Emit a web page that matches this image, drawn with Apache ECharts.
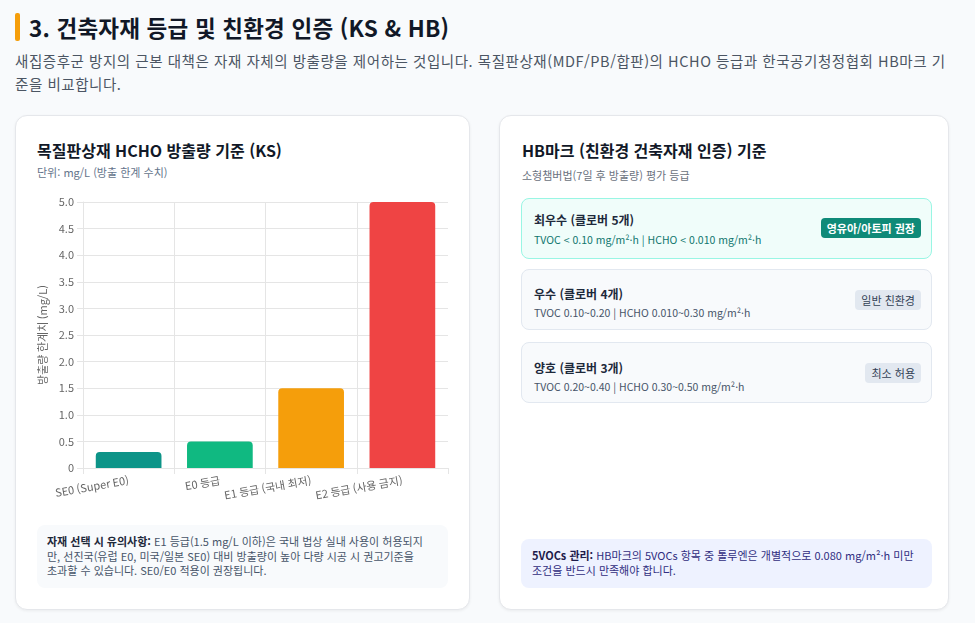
<!DOCTYPE html>
<html lang="ko">
<head>
<meta charset="utf-8">
<script src="https://cdn.jsdelivr.net/npm/echarts@6/dist/echarts.min.js"></script>
<style>
  html, body { margin:0; padding:0; }
  body { width:975px; height:623px; background:#f8fafc; position:relative; overflow:hidden;
         font-family:"Noto Sans CJK KR","Noto Sans",sans-serif; color:#1f2937; }
  .abs { position:absolute; white-space:nowrap; }
  .card { position:absolute; background:#fff; border:1px solid #e5e7eb; border-radius:12px;
          box-shadow:0 1px 3px rgba(0,0,0,0.06); box-sizing:border-box; }
  .item { position:absolute; left:521px; width:411px; height:61px; box-sizing:border-box;
          border:1px solid #e2e8f0; background:#f8fafc; border-radius:8px; }
  .item .t { position:absolute; left:12px; font-size:12px; font-weight:700; color:#1e293b; line-height:16px; }
  .item .s { position:absolute; left:12px; font-size:10.5px; color:#475569; line-height:14px; }
  .badge { position:absolute; font-size:11px; line-height:20px; height:20px; padding:0 6px; border-radius:4px;
           background:#e2e8f0; color:#334155; }
</style>
</head>
<body>
<div class="abs" style="left:15px;top:13px;width:5px;height:28px;background:#f59e0b;border-radius:2px;"></div>
<div class="abs" style="left:29px;top:13px;font-size:22.5px;line-height:28px;font-weight:700;color:#111827;letter-spacing:0.2px;">3. 건축자재 등급 및 친환경 인증 (KS &amp; HB)</div>
<div class="abs" style="left:15px;top:49px;font-size:14.5px;line-height:23px;color:#4b5563;letter-spacing:0.55px;">새집증후군 방지의 근본 대책은 자재 자체의 방출량을 제어하는 것입니다. 목질판상재(MDF/PB/합판)의 HCHO 등급과 한국공기청정협회 HB마크 기<br>준을 비교합니다.</div>

<div class="card" style="left:15px;top:115px;width:455px;height:495px;"></div>
<div class="card" style="left:499px;top:115px;width:450px;height:495px;"></div>

<div class="abs" style="left:37px;top:140px;font-size:16px;line-height:20px;font-weight:700;color:#111827;">목질판상재 HCHO 방출량 기준 (KS)</div>
<div class="abs" style="left:37px;top:164px;font-size:11px;line-height:16px;color:#64748b;">단위: mg/L (방출 한계 수치)</div>

<div id="chart" class="abs" style="left:20px;top:185px;width:445px;height:335px;"></div>

<div class="abs" style="left:37px;top:525px;width:411px;height:63px;background:#f8fafc;border-radius:8px;"></div>
<div class="abs" style="left:47px;top:534px;font-size:11px;line-height:14.5px;color:#475569;"><b style="color:#1e293b;">자재 선택 시 유의사항:</b> E1 등급(1.5 mg/L 이하)은 국내 법상 실내 사용이 허용되지<br>만, 선진국(유럽 E0, 미국/일본 SE0) 대비 방출량이 높아 다량 시공 시 권고기준을<br>초과할 수 있습니다. SE0/E0 적용이 권장됩니다.</div>

<div class="abs" style="left:522px;top:140px;font-size:16px;line-height:20px;font-weight:700;color:#111827;">HB마크 (친환경 건축자재 인증) 기준</div>
<div class="abs" style="left:522px;top:167px;font-size:11px;line-height:16px;color:#6b7280;">소형챔버법(7일 후 방출량) 평가 등급</div>

<div class="item" style="top:198px;background:#f0fdfa;border-color:#99f6e4;">
  <div class="t" style="top:13px;">최우수 (클로버 5개)</div>
  <div class="s" style="top:34px;color:#0f766e;">TVOC &lt; 0.10 mg/m²·h | HCHO &lt; 0.010 mg/m²·h</div>
  <div class="badge" style="right:10px;top:19px;background:#0f8a78;color:#fff;font-weight:700;">영유아/아토피 권장</div>
</div>
<div class="item" style="top:269px;">
  <div class="t" style="top:16px;">우수 (클로버 4개)</div>
  <div class="s" style="top:36px;">TVOC 0.10~0.20 | HCHO 0.010~0.30 mg/m²·h</div>
  <div class="badge" style="right:10px;top:20px;">일반 친환경</div>
</div>
<div class="item" style="top:342px;">
  <div class="t" style="top:17px;">양호 (클로버 3개)</div>
  <div class="s" style="top:37px;">TVOC 0.20~0.40 | HCHO 0.30~0.50 mg/m²·h</div>
  <div class="badge" style="right:10px;top:20px;">최소 허용</div>
</div>

<div class="abs" style="left:521px;top:539px;width:411px;height:49px;background:#eef2ff;border-radius:8px;"></div>
<div class="abs" style="left:532px;top:548px;font-size:11px;line-height:15px;color:#312e81;"><b style="color:#1e1b4b;">5VOCs 관리:</b> HB마크의 5VOCs 항목 중 톨루엔은 개별적으로 0.080 mg/m²·h 미만<br>조건을 반드시 만족해야 합니다.</div>

<script>
const categories = ['SE0 (Super E0)', 'E0 등급', 'E1 등급 (국내 최저)', 'E2 등급 (사용 금지)'];
const limits = [0.3, 0.5, 1.5, 5.0];
const barColors = ['#0d9488', '#10b981', '#f59e0b', '#ef4444'];
const yTicks = { min: 0, max: 5, interval: 0.5 };

const chart = echarts.init(document.getElementById('chart'));
chart.setOption({
  animation: false,
  textStyle: { fontFamily: '"Noto Sans CJK KR","Noto Sans",sans-serif' },
  grid: { left: 63, right: 17, top: 17, bottom: 52, containLabel: false },
  xAxis: {
    type: 'category',
    data: categories,
    boundaryGap: true,
    axisLine: { show: true, lineStyle: { color: '#e5e5e5' } },
    axisTick: { show: true, length: 6, lineStyle: { color: '#e5e5e5' } },
    splitLine: { show: true, showMaxLine: false, lineStyle: { color: '#e5e5e5' } },
    axisLabel: { rotate: 10, margin: 12, fontSize: 11, color: '#666', interval: 0 }
  },
  yAxis: {
    type: 'value',
    min: yTicks.min, max: yTicks.max, interval: yTicks.interval,
    name: '방출량 한계치 (mg/L)',
    nameLocation: 'middle',
    nameRotate: 90,
    nameGap: 33,
    nameTextStyle: { fontSize: 11, color: '#666' },
    axisLine: { show: true, lineStyle: { color: '#e5e5e5' } },
    axisTick: { show: true, length: 6, lineStyle: { color: '#e5e5e5' } },
    splitLine: { show: true, lineStyle: { color: '#e5e5e5' } },
    axisLabel: { fontSize: 11, color: '#666', margin: 9,
      formatter: v => v === 0 ? '0' : v.toFixed(1) }
  },
  series: [{
    type: 'bar',
    data: limits.map((v, i) => ({ value: v, itemStyle: { color: barColors[i] } })),
    barWidth: '72%',
    itemStyle: { borderRadius: [4, 4, 0, 0] }
  }]
});
</script>
</body>
</html>
